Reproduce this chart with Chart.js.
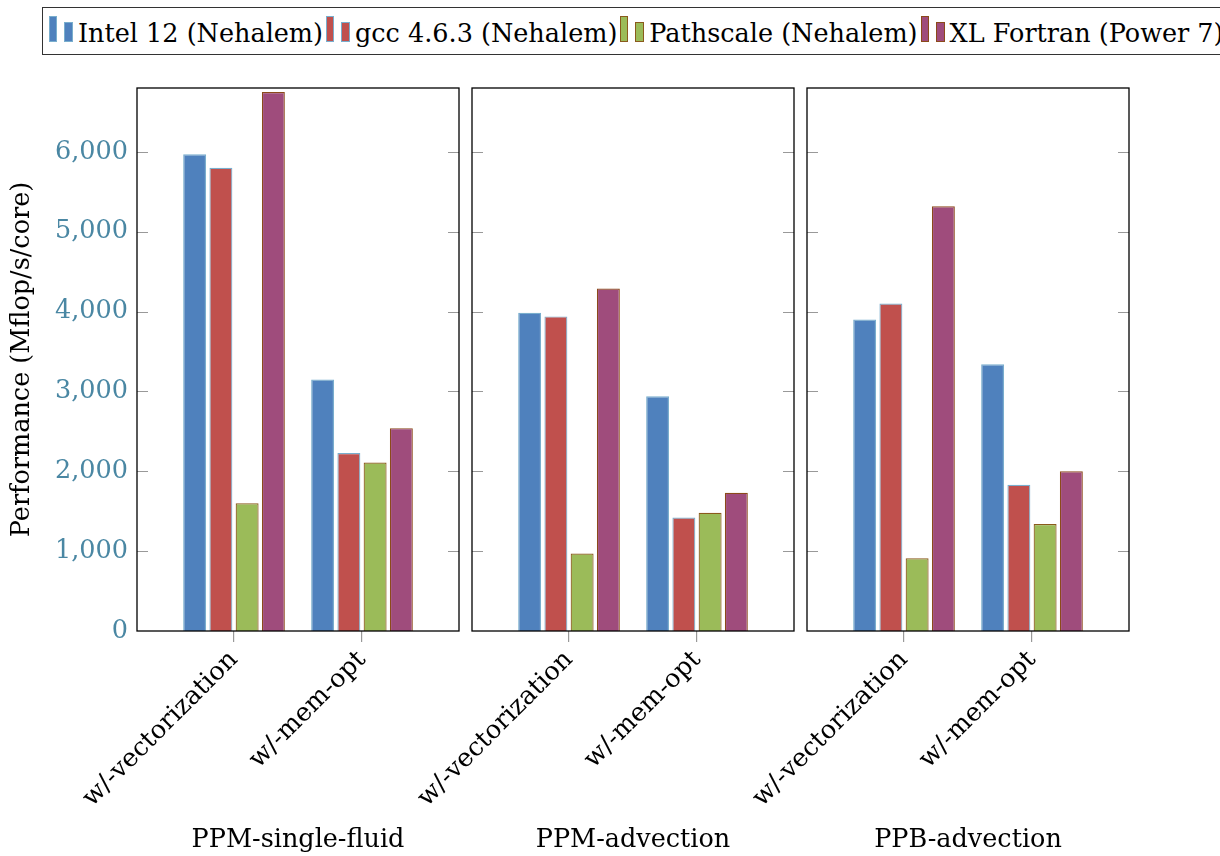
<!DOCTYPE html>
<html>
<head>
<meta charset="utf-8">
<script src="https://cdn.jsdelivr.net/npm/chart.js@4.4.1/dist/chart.umd.min.js"></script>
<style>
  body { margin: 0; width: 1220px; height: 856px; overflow: hidden; background: #fff; position: relative; font-family: "DejaVu Serif", serif; }
  canvas { position: absolute; top: 60px; }
  #legend { position: absolute; left: 42px; top: 7px; height: 48px; width: 1240px; border: 1.3px solid #333; display: flex; align-items: flex-end; white-space: nowrap; font-size: 25.5px; color: #000; box-sizing: border-box; padding-left: 6px; }
  .item { display: flex; flex-shrink: 0; align-items: flex-end; margin-right: 3px; padding-bottom: 8px; line-height: 1; }
  .mk { display: inline-block; flex-shrink: 0; box-sizing: border-box; width: 8px; border: 1.2px solid; margin-right: 7px; margin-bottom: 4px; }
</style>
</head>
<body>
<div id="legend"></div>
<canvas id="c0" width="465" height="796" style="left:0px"></canvas>
<canvas id="c1" width="528" height="796" style="left:272px"></canvas>
<canvas id="c2" width="528" height="796" style="left:607px"></canvas>
<script>
const panels = ["PPM-single-fluid", "PPM-advection", "PPB-advection"];
const variants = ["w/-vectorization", "w/-mem-opt"];
const seriesNames = ["Intel 12 (Nehalem)", "gcc 4.6.3 (Nehalem)", "Pathscale (Nehalem)", "XL Fortran (Power 7)"];
const fills = ["#4f81bd", "#c0504d", "#9bbb59", "#9f4c7c"];
const borders = ["#79aecd", "#79aecd", "#8a5a1c", "#8b4a1a"];

// one entry per panel: [w/-vectorization, w/-mem-opt]
const intel12 = [[5970, 3150], [3985, 2940], [3900, 3340]];
const gcc463 = [[5800, 2230], [3940, 1420], [4100, 1830]];
const pathscale = [[1600, 2110], [970, 1480], [910, 1340]];
const xlFortran = [[6750, 2540], [4290, 1730], [5320, 2000]];
const allSeries = [intel12, gcc463, pathscale, xlFortran];

const yTicks = [0, 1000, 2000, 3000, 4000, 5000, 6000];
const yMax = 6800;
const font = "'DejaVu Serif', serif";
const fsize = 25.5;

// legend
const legend = document.getElementById("legend");
seriesNames.forEach((name, i) => {
  const it = document.createElement("span");
  it.className = "item";
  const a = document.createElement("span");
  a.className = "mk";
  a.style.height = "26px";
  a.style.background = fills[i];
  a.style.borderColor = borders[i];
  const b = document.createElement("span");
  b.className = "mk";
  b.style.height = "20px";
  b.style.width = "9px";
  b.style.background = fills[i];
  b.style.borderColor = borders[i];
  b.style.marginRight = "5px";
  const t = document.createElement("span");
  t.textContent = name;
  it.append(a, b, t);
  legend.appendChild(it);
});

const frame = {
  id: "frame",
  afterDraw(chart) {
    const { ctx, chartArea: a, scales: { y } } = chart;
    ctx.save();
    ctx.strokeStyle = "#999";
    ctx.lineWidth = 1.2;
    y.ticks.forEach((t) => {
      if (t.value === 0) return;
      const py = Math.round(y.getPixelForValue(t.value)) + 0.5;
      ctx.beginPath();
      ctx.moveTo(a.left, py); ctx.lineTo(a.left + 11, py);
      ctx.moveTo(a.right - 11, py); ctx.lineTo(a.right, py);
      ctx.stroke();
    });
    ctx.strokeStyle = "#000";
    ctx.lineWidth = 1.3;
    ctx.strokeRect(a.left, a.top, a.width, a.height);
    ctx.restore();
  }
};

panels.forEach((panel, p) => {
  const first = p === 0;
  new Chart(document.getElementById("c" + p), {
    type: "bar",
    data: {
      datasets: seriesNames.map((name, i) => ({
        label: name,
        data: allSeries[i][p].map((v, k) => ({ x: k, y: v })),
        backgroundColor: fills[i],
        borderColor: borders[i],
        borderWidth: 1.2,
        categoryPercentage: 0.82,
        barPercentage: 0.875,
      })),
    },
    options: {
      responsive: false,
      animation: false,
      layout: { padding: { top: 28, right: 6, bottom: 0, left: 0 } },
      plugins: { legend: { display: false }, tooltip: { enabled: false } },
      scales: {
        x: {
          type: "linear",
          offset: false,
          min: -0.758,
          max: 1.758,
          afterBuildTicks: (s) => { s.ticks = variants.map((v, k) => ({ value: k })); },
          afterFit: (s) => { s.height = 225; },
          ticks: {
            callback: (v) => variants[v],
            minRotation: 45,
            maxRotation: 45,
            color: "#000",
            padding: 3,
            font: { family: font, size: fsize },
          },
          grid: { offset: false, drawOnChartArea: false, drawTicks: true, tickLength: 11, color: "#999", lineWidth: 1.2 },
          border: { display: false },
          title: { display: true, text: panel, color: "#000", padding: 0, font: { family: font, size: fsize } },
        },
        y: {
          min: 0,
          max: yMax,
          afterBuildTicks: (s) => { s.ticks = yTicks.map((v) => ({ value: v })); },
          afterFit: (s) => { s.width = first ? 137 : 200; },
          ticks: {
            display: first,
            color: "#4a87a3",
            padding: 9,
            font: { family: font, size: fsize },
            callback: (v) => v.toLocaleString("en-US"),
          },
          grid: { display: false, drawTicks: false, tickLength: 0 },
          border: { display: false },
          title: { display: first, text: "Performance (Mflop/s/core)", color: "#000", padding: { top: 7, bottom: 0 }, font: { family: font, size: fsize } },
        },
      },
    },
    plugins: [frame],
  });
});
</script>
</body>
</html>
